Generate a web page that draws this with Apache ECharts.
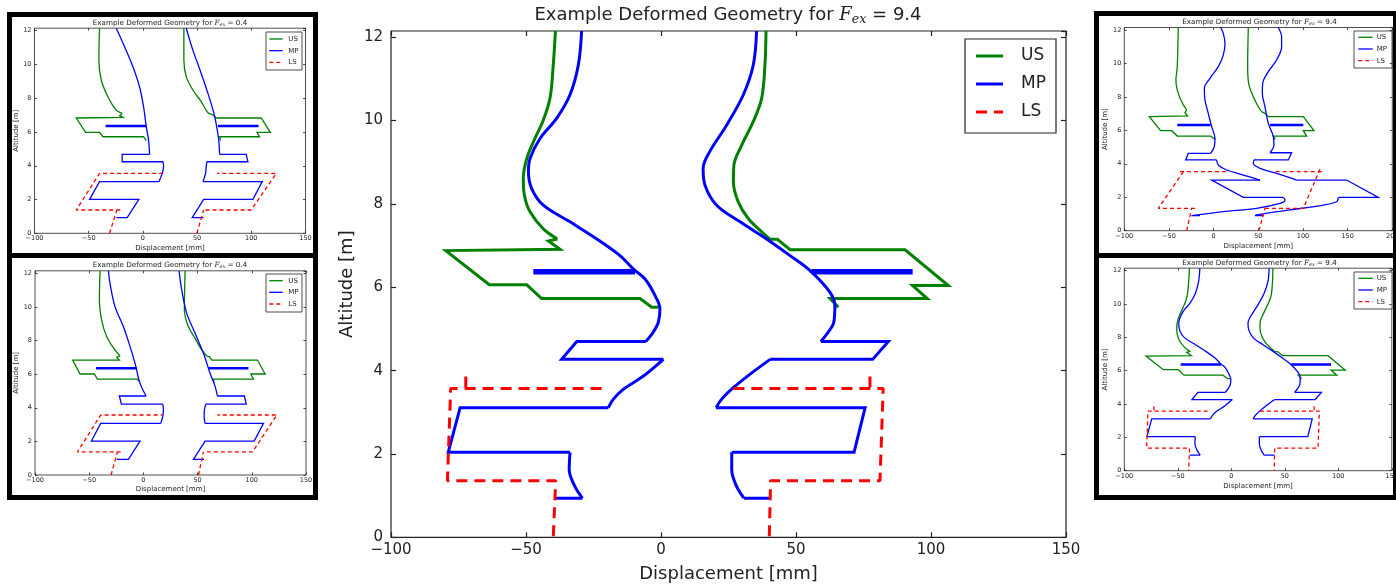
<!DOCTYPE html>
<html>
<head>
<meta charset="utf-8">
<script src="https://cdn.jsdelivr.net/npm/echarts@6/dist/echarts.min.js"></script>
<style>
html,body{margin:0;padding:0;background:#fff;}
#c{width:1396px;height:586px;}
</style>
</head>
<body>
<div id="c"></div>
<script>
// Each profile is split into smoothly bending stretches (curves) and
// straight-edged stretches (edges); both are lists of [displacement mm, altitude m] runs.

// ---------- Large panel (F_ex = 9.4), also shown in the lower-right small panel ----------
const mainUSLeftCurves = [[[-39.1,12.15],[-39.9,11.34],[-41.1,10.54],[-43.6,10.01],[-46.7,9.57],[-49.7,9.09],[-51.0,8.61],[-50.6,8.21],[-48.5,7.81],[-43.6,7.40],[-38.4,7.16]]];
const mainUSLeftEdges = [[[-38.4,7.16],[-41.7,7.11],[-37.4,6.91],[-79.7,6.88],[-63.6,6.06],[-49.7,6.06],[-44.2,5.73],[-7.8,5.73],[-3.4,5.52],[-1.0,5.52]]];
const mainUSRightCurves = [[[38.9,12.15],[38.5,11.34],[37.3,10.54],[34.2,9.98],[29.9,9.41],[27.0,8.93],[26.8,8.53],[28.6,8.05],[32.3,7.65],[37.3,7.33],[40.4,7.15]]];
const mainUSRightEdges = [[[40.4,7.15],[43.1,7.15],[47.8,6.90],[90.4,6.90],[106.4,6.04],[93.2,6.04],[98.6,5.73],[62.6,5.73],[65.7,5.52]]];
const mainMPLeftCurves = [
  [[-29.4,12.15],[-30.6,11.34],[-33.7,10.62],[-38.6,10.06],[-44.8,9.57],[-48.5,9.09],[-49.1,8.77],[-47.9,8.37],[-43.6,7.97],[-33.7,7.57],[-23.8,7.16],[-15.2,6.76],[-10.3,6.44],[-5.9,6.20],[-2.2,5.80],[-0.4,5.48],[-1.0,5.16],[-2.9,4.92],[-5.6,4.70]],
  [[0.9,4.27],[-6.5,3.87],[-14.0,3.55],[-17.7,3.31],[-19.5,3.11]],
  [[-33.7,2.04],[-34.0,1.62],[-31.9,1.22],[-29.1,0.94]]
];
const mainMPLeftEdges = [[[-5.6,4.70],[-31.2,4.70],[-36.8,4.27],[0.9,4.27]], [[-19.5,3.11],[-74.4,3.11],[-78.8,2.04],[-33.7,2.04]], [[-29.1,0.94],[-38.9,0.94]]];
const mainMPRightCurves = [
  [[35.4,12.15],[34.2,11.34],[30.5,10.62],[24.3,9.89],[18.0,9.25],[15.6,8.85],[16.3,8.45],[20.6,7.97],[29.3,7.57],[39.1,7.16],[47.8,6.76],[55.2,6.40],[62.6,5.88],[64.4,5.56],[64.0,5.16],[61.9,4.92],[59.2,4.70]],
  [[40.4,4.27],[32.9,3.91],[26.8,3.59],[22.4,3.31],[20.4,3.11]],
  [[26.2,2.04],[26.2,1.62],[28.0,1.22],[30.7,0.94]]
];
const mainMPRightEdges = [[[59.2,4.70],[84.2,4.70],[78.4,4.27],[40.4,4.27]], [[20.4,3.11],[75.6,3.11],[71.5,2.04],[26.2,2.04]], [[30.7,0.94],[40.4,0.94]]];
const mainMPBands = [[[-47.3,6.37],[-9.6,6.37]], [[55.8,6.37],[93.2,6.37]]];
const mainLS = [
  [[-22.0,3.57],[-77.9,3.57],[-79.1,1.36],[-39.0,1.36],[-39.9,0]], [[-72.3,3.86],[-72.3,3.57]],
  [[26.8,3.57],[82.3,3.57],[81.1,1.36],[40.6,1.36],[40.1,0]], [[77.4,3.86],[77.4,3.57]]
];

// ---------- Upper-left small panel (F_ex = 0.4) ----------
const aUSLeftCurves = [[[-40.0,12.15],[-40.6,10.26],[-38.4,9.08],[-32.3,8.09],[-24.6,7.30],[-19.1,7.10]]];
const aUSLeftEdges = [[[-19.1,7.10],[-21.5,6.97],[-18.5,6.87],[-61.5,6.83],[-52.9,5.98],[-40.0,5.98],[-36.9,5.72],[0.6,5.72],[3.1,5.49]]];
const aUSRightCurves = [[[37.8,12.15],[37.8,10.26],[40.0,9.28],[46.1,8.49],[53.8,7.80],[60.0,7.14],[64.6,7.01]]];
const aUSRightEdges = [[[64.6,7.01],[67.7,6.83],[109.2,6.83],[117.5,5.98],[105.2,5.98],[107.6,5.72],[70.7,5.72],[71.6,5.49]]];
const aMPLeftCurves = [[[-24.6,12.15],[-16.9,11.05],[-9.2,9.87],[-3.1,8.68],[0.6,7.50],[3.1,6.32],[5.2,5.53],[6.2,4.68]], [[18.5,4.24],[19.1,3.95],[17.8,3.55],[14.8,3.06]]];
const aMPLeftEdges = [[[6.2,4.68],[-19.1,4.68],[-19.1,4.24],[18.5,4.24]], [[14.8,3.06],[-40.0,3.06],[-49.2,2.01],[-3.7,2.01],[-14.5,0.93],[-24.6,0.93]]];
const aMPRightCurves = [[[40.0,12.15],[46.1,10.85],[53.8,9.47],[60.0,8.29],[65.5,7.10],[68.6,6.12],[70.1,5.43],[70.7,4.68]], [[59.0,4.24],[58.4,3.95],[57.8,3.55],[55.4,3.06]]];
const aMPRightEdges = [[[70.7,4.68],[95.3,4.68],[96.9,4.24],[59.0,4.24]], [[55.4,3.06],[110.1,3.06],[101.5,2.01],[56.0,2.01],[45.5,0.93],[56.0,0.93]]];
const aMPBands = [[[-34.4,6.36],[3.1,6.36]], [[69.2,6.36],[106.7,6.36]]];
const aLS = [
  [[-30.8,0],[-24.0,1.38]], [[-20.9,1.38],[-61.5,1.38],[-40.0,3.55],[17.5,3.55]],
  [[49.8,0],[56.0,1.38]], [[57.8,1.38],[99.9,1.38],[123.0,3.55],[68.3,3.55]]
];

// ---------- Lower-left small panel (F_ex = 0.4) ----------
const bUSLeftCurves = [[[-40.0,12.15],[-40.6,10.41],[-38.5,9.22],[-33.8,8.23],[-26.2,7.44],[-21.5,7.08]]];
const bUSLeftEdges = [[[-21.5,7.08],[-24.6,7.00],[-22.2,6.84],[-65.2,6.84],[-58.5,6.01],[-45.2,6.01],[-42.5,5.71],[-5.5,5.71],[-3.1,5.49]]];
const bUSRightCurves = [[[38.5,12.15],[37.8,9.82],[41.5,8.83],[47.7,8.13],[53.8,7.44],[58.5,7.08]]];
const bUSRightEdges = [[[58.5,7.08],[60.9,7.04],[63.1,6.84],[105.2,6.84],[112.3,6.01],[99.1,6.01],[101.5,5.71],[64.6,5.71],[65.2,5.49]]];
const bMPLeftCurves = [[[-32.3,12.15],[-30.8,11.4],[-26.2,10.02],[-18.5,8.83],[-12.3,7.64],[-7.7,6.64],[-3.1,5.45],[2.5,4.70]], [[17.8,4.22],[18.5,3.87],[17.8,3.47],[16.0,3.07]]];
const bMPLeftEdges = [[[2.5,4.70],[-22.2,4.70],[-20.3,4.22],[17.8,4.22]], [[16.0,3.07],[-39.4,3.07],[-48.0,2.02],[-3.1,2.02],[-13.8,0.93],[-24.6,0.93]]];
const bMPRightCurves = [[[32.9,12.15],[35.4,11.0],[40.0,9.62],[47.7,8.43],[55.4,7.24],[61.5,6.05],[66.2,5.26],[68.3,4.70]], [[57.5,4.22],[56.3,3.87],[56.0,3.47],[56.9,3.07]]];
const bMPRightEdges = [[[68.3,4.70],[93.2,4.70],[94.8,4.22],[57.5,4.22]], [[56.9,3.07],[110.8,3.07],[102.2,2.02],[56.9,2.02],[46.2,0.93],[56.0,0.93]]];
const bMPBands = [[[-43.7,6.35],[-6.2,6.35]], [[60.0,6.35],[96.9,6.35]]];
const bLS = [
  [[-29.8,0],[-24.0,1.37]], [[-20.9,1.37],[-60.9,1.37],[-39.4,3.57],[17.5,3.57]],
  [[50.8,0],[55.4,1.37]], [[58.5,1.37],[100.6,1.37],[123.1,3.57],[68.3,3.57]]
];

// ---------- Upper-right small panel (F_ex = 9.4) ----------
const cUSLeftCurves = [[[-39.6,12.15],[-40.7,9.81],[-42.2,9.01],[-40.7,8.41],[-35.8,7.71],[-30.2,7.22]]];
const cUSLeftEdges = [[[-30.2,7.22],[-32.1,7.06],[-29.1,6.86],[-72.0,6.82],[-59.3,5.98],[-47.0,5.98],[-40.7,5.66],[-3.4,5.66],[1.5,5.46]]];
const cUSRightCurves = [[[38.8,12.15],[38.1,9.81],[39.2,8.81],[44.4,8.01],[50.0,7.41],[53.7,7.12]]];
const cUSRightEdges = [[[53.7,7.12],[57.5,7.02],[61.2,6.82],[100.4,6.82],[112.3,5.98],[100.4,5.98],[104.1,5.66],[66.8,5.66],[69.0,5.46]]];
const cMPLeftCurves = [
  [[7.8,12.15],[10.8,11.8],[12.7,11.2],[10.8,10.5],[5.2,9.81],[-4.1,9.11],[-10.4,8.51],[-9.7,7.81],[-6.0,7.02],[-2.2,6.22],[1.5,5.52],[0.7,5.02],[-3.4,4.62]],
  [[3.4,4.23],[5.2,3.93],[14.6,3.63],[33.2,3.33],[51.9,3.03]],
  [[78.0,1.99],[79.9,1.83],[74.3,1.63],[48.1,1.34],[10.8,1.14],[-24.6,0.90]]
];
const cMPLeftEdges = [[[-3.4,4.62],[-28.4,4.62],[-31.3,4.23],[3.4,4.23]], [[51.9,3.03],[-2.2,3.03],[33.2,1.99],[78.0,1.99]], [[-24.6,0.90],[-15.3,0.90]]];
const cMPRightCurves = [
  [[72.4,12.15],[76.1,11.6],[76.1,11.0],[70.5,10.21],[61.2,9.51],[54.9,8.81],[54.5,8.21],[57.5,7.41],[61.2,6.42],[66.8,5.62],[67.5,5.12],[63.1,4.66]],
  [[45.1,4.23],[44.4,4.03],[51.9,3.73],[70.5,3.43],[92.9,3.03]],
  [[139.6,1.99],[137.7,1.73],[122.8,1.53],[85.4,1.24],[48.1,0.94],[46.3,0.90]]
];
const cMPRightEdges = [[[63.1,4.66],[87.3,4.66],[83.6,4.23],[45.1,4.23]], [[92.9,3.03],[148.9,3.03],[184.3,1.99],[139.6,1.99]], [[46.3,0.90],[55.6,0.90]]];
const cMPBands = [[[-40.7,6.32],[-3.4,6.32]], [[63.1,6.32],[100.4,6.32]]];
const cLS = [
  [[-30.2,0],[-24.6,1.34]], [[-20.9,1.34],[-61.9,1.34],[-32.1,3.67]], [[-37.7,3.53],[13.8,3.53]],
  [[50.7,0],[57.5,1.34]], [[57.5,1.34],[100.4,1.34],[119.0,3.67]], [[120.9,3.53],[66.0,3.53]]
];

const seriesNames = ['US', 'MP', 'LS'];
const forceLow = '0.4';
const forceHigh = '9.4';

// ---------- Panel layouts ----------
const bigStyle = {tickLen: 5, tickFont: 15, nameFont: 18, xLabelMargin: 5, yLabelMargin: 8, lw: 3, bandLw: 5.5, dash: [11, 7], border: 1.2};
const smallStyle = {tickLen: 2.5, tickFont: 6.5, nameFont: 7, xLabelMargin: 2, yLabelMargin: 3, lw: 1.3, bandLw: 2.5, dash: [4, 3], border: 0.8};

const mainLines = {
  US: {curves: mainUSLeftCurves.concat(mainUSRightCurves), edges: mainUSLeftEdges.concat(mainUSRightEdges)},
  MP: {curves: mainMPLeftCurves.concat(mainMPRightCurves), edges: mainMPLeftEdges.concat(mainMPRightEdges), bands: mainMPBands},
  LS: mainLS
};

const panels = [
  Object.assign({}, bigStyle, {
    grid: {left: 391, top: 31, width: 675, height: 506.3}, xMax: 150, xNameGap: 28, yNameGap: 35,
    title: {x: 728, y: 15, size: 18, f: forceHigh},
    legend: {x: 965, y: 39, w: 91, h: 94, rows: [17, 45, 73], l0: 11, l1: 38, tx: 56, font: 17},
    lines: mainLines
  }),
  Object.assign({}, smallStyle, {
    grid: {left: 34.5, top: 28.2, width: 271, height: 205.1}, xMax: 150, xNameGap: 11, yNameGap: 15,
    title: {x: 170, y: 23.3, size: 7.2, f: forceLow},
    legend: {x: 266, y: 32, w: 36, h: 38, rows: [7, 18.7, 30.3], l0: 3.3, l1: 16.7, tx: 22.3, font: 7},
    lines: {
      US: {curves: aUSLeftCurves.concat(aUSRightCurves), edges: aUSLeftEdges.concat(aUSRightEdges)},
      MP: {curves: aMPLeftCurves.concat(aMPRightCurves), edges: aMPLeftEdges.concat(aMPRightEdges), bands: aMPBands},
      LS: aLS
    }
  }),
  Object.assign({}, smallStyle, {
    grid: {left: 35, top: 270.8, width: 271, height: 204.2}, xMax: 150, xNameGap: 11, yNameGap: 15,
    title: {x: 170, y: 265, size: 7.2, f: forceLow},
    legend: {x: 266, y: 274, w: 36, h: 38, rows: [6.7, 18.3, 30], l0: 3.3, l1: 16.7, tx: 22.3, font: 7},
    lines: {
      US: {curves: bUSLeftCurves.concat(bUSRightCurves), edges: bUSLeftEdges.concat(bUSRightEdges)},
      MP: {curves: bMPLeftCurves.concat(bMPRightCurves), edges: bMPLeftEdges.concat(bMPRightEdges), bands: bMPBands},
      LS: bLS
    }
  }),
  Object.assign({}, smallStyle, {
    grid: {left: 1124.3, top: 27.5, width: 268, height: 203.2}, xMax: 200, xNameGap: 12, yNameGap: 14,
    title: {x: 1259.5, y: 22.3, size: 7.2, f: forceHigh},
    legend: {x: 1354, y: 31, w: 38, h: 37, rows: [6.3, 18, 29.7], l0: 4.3, l1: 18.7, tx: 22.7, font: 7},
    lines: {
      US: {curves: cUSLeftCurves.concat(cUSRightCurves), edges: cUSLeftEdges.concat(cUSRightEdges)},
      MP: {curves: cMPLeftCurves.concat(cMPRightCurves), edges: cMPLeftEdges.concat(cMPRightEdges), bands: cMPBands},
      LS: cLS
    }
  }),
  Object.assign({}, smallStyle, {
    grid: {left: 1124.3, top: 268.2, width: 267.5, height: 202.5}, xMax: 150, xNameGap: 12, yNameGap: 14,
    title: {x: 1259.5, y: 263.3, size: 7.2, f: forceHigh},
    legend: {x: 1354, y: 272, w: 38, h: 37, rows: [6.3, 18, 29.7], l0: 4.3, l1: 18.7, tx: 22.7, font: 7},
    lines: mainLines
  })
];

const COLORS = {US: '#008000', MP: '#0000ff', LS: '#ff0000'};
const INK = '#222';
const FONT = 'DejaVu Sans';
const minusFmt = v => (v < 0 ? '\u2212' + (-v) : String(v));

const grids = [], xAxes = [], yAxes = [], series = [], graphics = [];

panels.forEach((p, i) => {
  grids.push(Object.assign({show: true, borderColor: INK, borderWidth: p.border, backgroundColor: '#fff',
    containLabel: false, outerBoundsMode: 'none'}, p.grid));
  const tick = {show: true, inside: true, length: p.tickLen, lineStyle: {color: INK, width: p.border}};
  const common = {gridIndex: i, type: 'value', splitLine: {show: false}, axisLine: {show: false, onZero: false}, axisTick: tick};
  xAxes.push(Object.assign({}, common, {
    position: 'bottom', min: -100, max: p.xMax, interval: 50,
    axisLabel: {fontSize: p.tickFont, fontFamily: FONT, color: INK, margin: p.xLabelMargin, formatter: minusFmt},
    name: 'Displacement [mm]', nameLocation: 'middle', nameGap: p.xNameGap,
    nameTextStyle: {fontSize: p.nameFont, fontFamily: FONT, color: INK}
  }));
  xAxes.push(Object.assign({}, common, {position: 'top', min: -100, max: p.xMax, interval: 50, axisLabel: {show: false}}));
  yAxes.push(Object.assign({}, common, {
    position: 'left', min: 0, max: 12.15, interval: 2,
    axisLabel: {fontSize: p.tickFont, fontFamily: FONT, color: INK, margin: p.yLabelMargin, showMaxLabel: false, formatter: minusFmt},
    name: 'Altitude [m]', nameLocation: 'middle', nameGap: p.yNameGap,
    nameTextStyle: {fontSize: p.nameFont, fontFamily: FONT, color: INK}
  }));
  yAxes.push(Object.assign({}, common, {position: 'right', min: 0, max: 12.15, interval: 2, axisLabel: {show: false}}));

  const xi = 2 * i, yi = 2 * i;
  const add = (name, data, width, opts) => series.push(Object.assign({
    type: 'line', name: name, xAxisIndex: xi, yAxisIndex: yi, data: data,
    symbol: 'none', silent: true, animation: false, clip: true,
    lineStyle: {color: COLORS[name], width: width, type: 'solid', cap: 'butt', join: 'miter'}
  }, opts || {}));
  const L = p.lines;
  L.US.edges.forEach(d => add('US', d, p.lw));
  L.US.curves.forEach(d => add('US', d, p.lw, {smooth: 0.35}));
  L.MP.edges.forEach(d => add('MP', d, p.lw));
  L.MP.curves.forEach(d => add('MP', d, p.lw, {smooth: 0.35}));
  L.MP.bands.forEach(d => add('MP', d, p.bandLw));
  L.LS.forEach(d => add('LS', d, p.lw, {lineStyle: {color: COLORS.LS, width: p.lw, type: p.dash, cap: 'butt'}}));

  // title with math-style subscript
  const t = p.title;
  graphics.push({
    type: 'text', x: t.x, y: t.y, z: 10,
    style: {
      text: '{a|Example Deformed Geometry for }{f|F}{s|ex}{a| = ' + t.f + '}',
      align: 'center', verticalAlign: 'middle',
      rich: {
        a: {fontSize: t.size, fontFamily: FONT, fill: INK},
        f: {fontSize: t.size, fontFamily: 'DejaVu Serif', fontStyle: 'italic', fill: INK},
        s: {fontSize: t.size * 0.7, fontFamily: 'DejaVu Serif', fontStyle: 'italic', fill: INK, padding: [t.size * 0.5, 0, 0, 0]}
      }
    }
  });

  // legend box
  const G = p.legend;
  const children = [{type: 'rect', shape: {x: 0, y: 0, width: G.w, height: G.h}, style: {fill: '#fff', stroke: INK, lineWidth: p.border}}];
  seriesNames.forEach((n, k) => {
    children.push({type: 'line', shape: {x1: G.l0, y1: G.rows[k], x2: G.l1, y2: G.rows[k]},
      style: {stroke: COLORS[n], lineWidth: p.lw, lineDash: n === 'LS' ? p.dash : null}});
    children.push({type: 'text', x: G.tx, y: G.rows[k], style: {text: n, fontSize: G.font, fontFamily: FONT, fill: INK, verticalAlign: 'middle'}});
  });
  graphics.push({type: 'group', x: G.x, y: G.y, z: 10, children: children});
});

// heavy black frames around the four small panels
const bars = [
  [7, 12, 311, 5], [7, 12, 5, 488], [313, 12, 5, 488], [7, 495, 311, 5], [7, 253, 311, 5],
  [1094, 11, 310, 5], [1094, 11, 5, 489], [1393, 11, 5, 489], [1094, 495, 310, 5], [1094, 253, 310, 5]
];
bars.forEach(b => graphics.push({type: 'rect', z: 20, shape: {x: b[0], y: b[1], width: b[2], height: b[3]}, style: {fill: '#000'}}));

const chart = echarts.init(document.getElementById('c'), null, {renderer: 'canvas'});
chart.setOption({
  animation: false,
  backgroundColor: '#fff',
  grid: grids, xAxis: xAxes, yAxis: yAxes, series: series,
  graphic: {elements: graphics}
});
</script>
</body>
</html>
